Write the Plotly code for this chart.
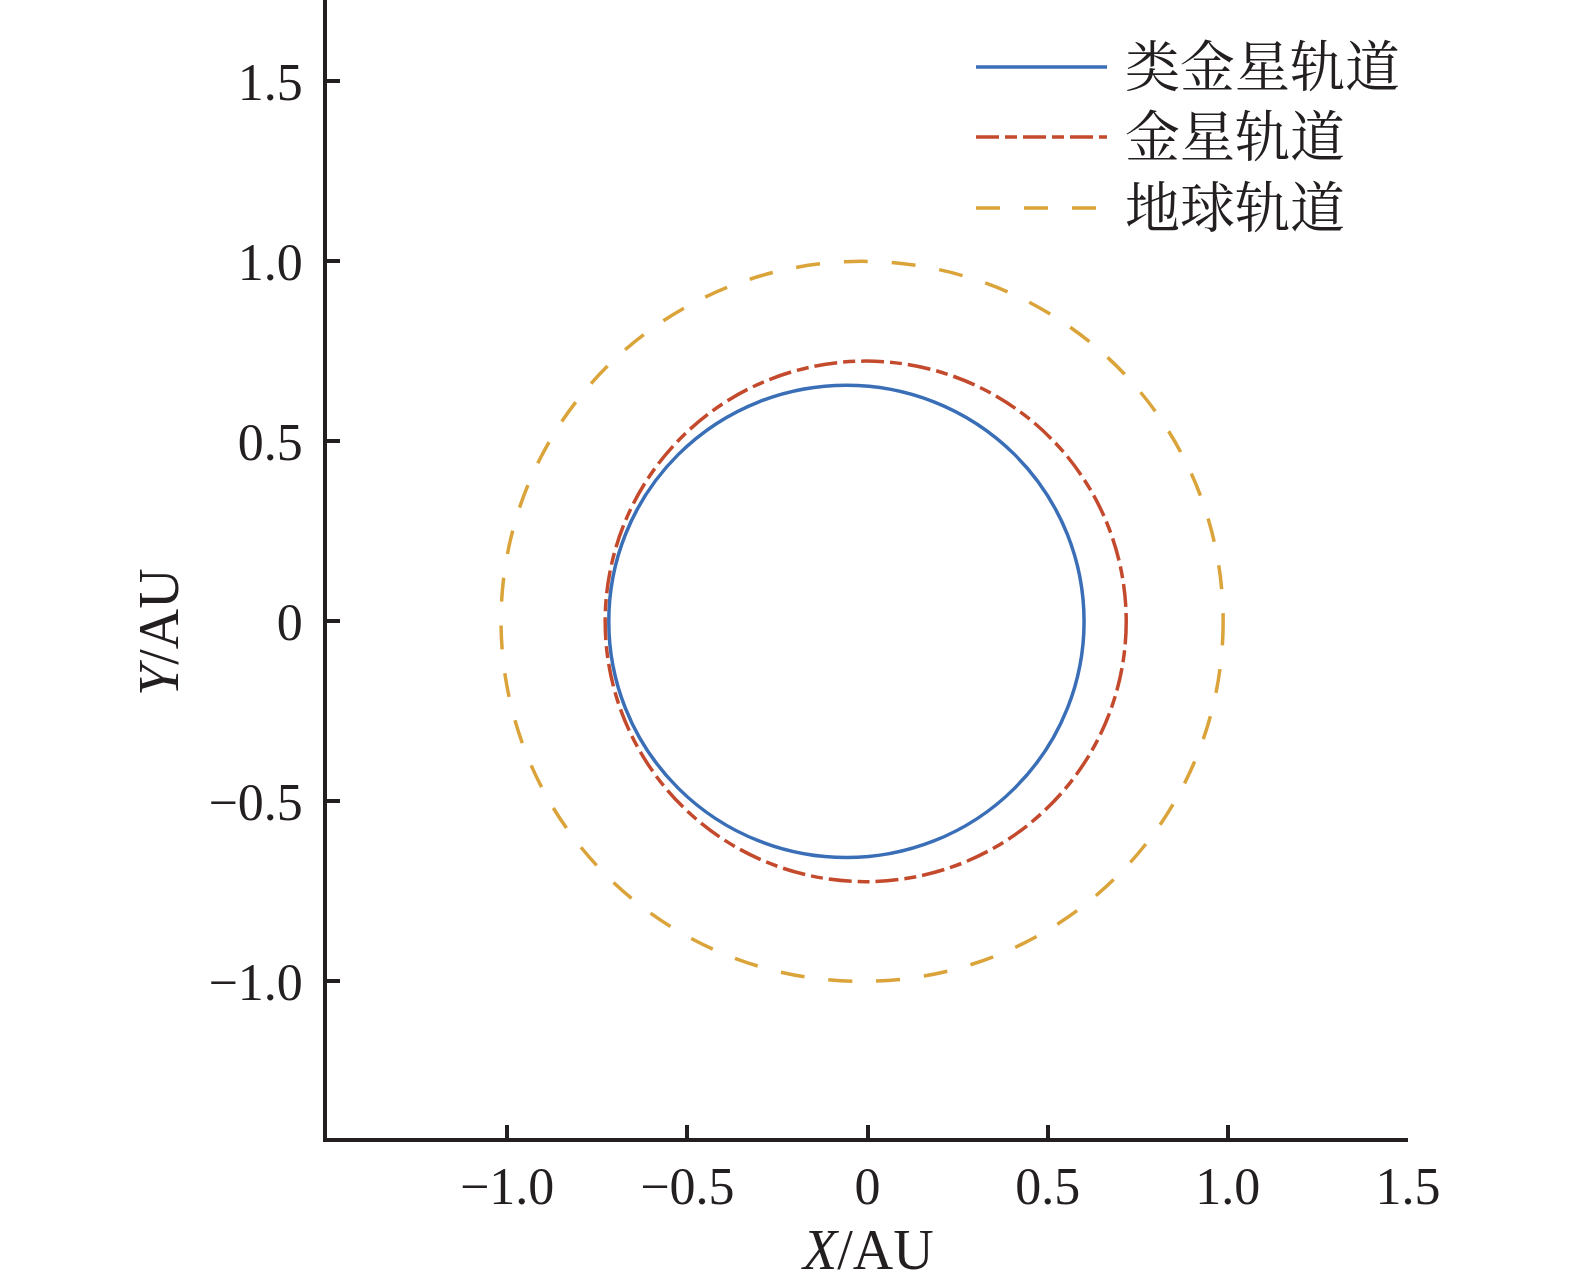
import plotly.graph_objects as go

# орбиты: границы эллипсов (а.е.)
orbit_names = ["类金星轨道", "金星轨道", "地球轨道"]
orbit_x_min = [-0.718, -0.728, -1.017]
orbit_x_max = [0.601, 0.718, 0.987]
orbit_y_min = [-0.656, -0.723, -1.000]
orbit_y_max = [0.656, 0.723, 1.000]

tick_vals = [-1.0, -0.5, 0, 0.5, 1.0, 1.5]
tick_text = ["\u22121.0", "\u22120.5", "0", "0.5", "1.0", "1.5"]

# стиль
COLORS = ["#3a6fb7", "#c44a2d", "#dba43a"]
DASHES = ["solid", "23px,6px,12px,6px", "24px,24px"]
LINE_W = 3.5
AXIS_COLOR = "#231f20"
SERIF = "Liberation Serif, Times New Roman, serif"
CJK = "Noto Serif CJK SC, Noto Sans CJK SC, sans-serif"

W, H = 1575, 1282
L, R, T, B = 327, 167, 0, 144
PW, PH = W - L - R, H - T - B


def px_x(px):
    return (px - L) / PW


def px_y(py):
    return (H - B - py) / PH


fig = go.Figure()

for i in range(len(orbit_names)):
    fig.add_shape(
        type="circle", xref="x", yref="y",
        x0=orbit_x_min[i], x1=orbit_x_max[i],
        y0=orbit_y_min[i], y1=orbit_y_max[i],
        line=dict(color=COLORS[i], width=LINE_W, dash=DASHES[i]),
        layer="above",
    )

# легенда вручную
legend_lines = [67, 137, 208]
legend_text = [62, 132, 203]
for i, name in enumerate(orbit_names):
    fig.add_shape(
        type="line", xref="paper", yref="paper",
        x0=px_x(976), x1=px_x(1107),
        y0=px_y(legend_lines[i]), y1=px_y(legend_lines[i]),
        line=dict(color=COLORS[i], width=LINE_W, dash=DASHES[i]),
    )
    fig.add_annotation(
        text=name, xref="paper", yref="paper",
        x=px_x(1123), y=px_y(legend_text[i]),
        xanchor="left", yanchor="middle", showarrow=False,
        font=dict(family=CJK, size=55, color=AXIS_COLOR),
    )

# подписи осей
fig.add_annotation(
    text="<i>X</i>/AU", xref="paper", yref="paper",
    x=0.5, y=px_y(1250), xanchor="center", yanchor="middle",
    showarrow=False, font=dict(family=SERIF, size=56, color=AXIS_COLOR),
)
fig.add_annotation(
    text="<i>Y</i>/AU", xref="paper", yref="paper",
    x=px_x(159), y=px_y(632), xanchor="center", yanchor="middle",
    textangle=-90, showarrow=False,
    font=dict(family=SERIF, size=56, color=AXIS_COLOR),
)

axis_common = dict(
    showgrid=False, zeroline=False,
    showline=True, linecolor=AXIS_COLOR, linewidth=3.5,
    ticks="inside", ticklen=13, tickwidth=3.5, tickcolor=AXIS_COLOR,
    tickvals=tick_vals, ticktext=tick_text,
    tickfont=dict(family=SERIF, size=52, color=AXIS_COLOR),
)

fig.update_layout(
    width=W, height=H,
    margin=dict(l=L, r=R, t=T, b=B),
    plot_bgcolor="white", paper_bgcolor="white",
    showlegend=False,
    xaxis=dict(range=[-1.5, 1.5], ticklabelstandoff=0, **axis_common),
    yaxis=dict(range=[-1.435, 1.726], ticklabelstandoff=10, **axis_common),
)

fig.write_html(
    "out.html",
    config={"displayModeBar": False},
    post_script="document.body.style.margin='0';",
)
